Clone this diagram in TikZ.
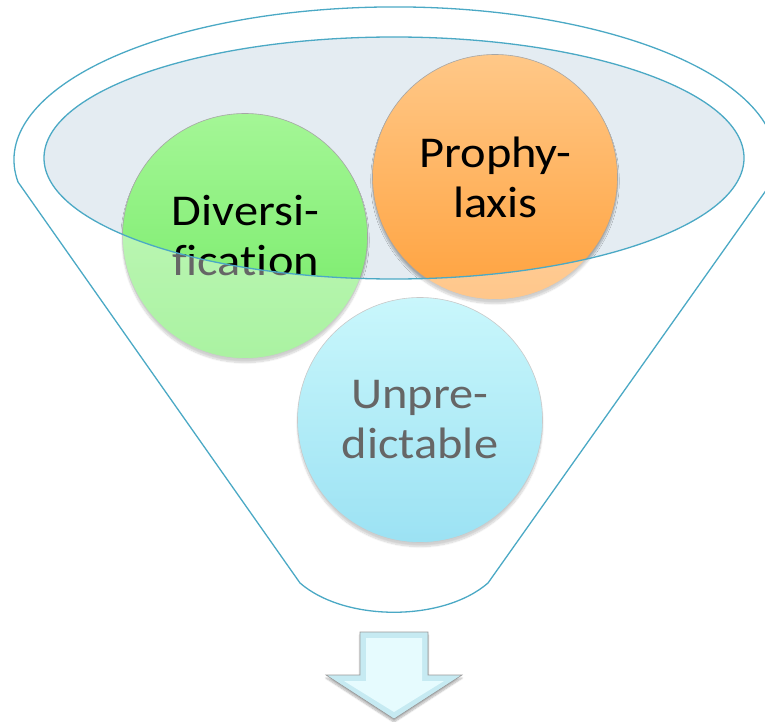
\documentclass[tikz,border=0pt]{standalone}
\usepackage{fontspec}
\newfontfamily\lblfont{Carlito}[FakeStretch=1.1, Ligatures=NoCommon]
\usetikzlibrary{shadows.blur}
\definecolor{funnelline}{HTML}{4BA9C5}
\definecolor{mouth}{HTML}{E4ECF2}
\definecolor{greentop}{HTML}{A4F696}
\definecolor{greenmid}{HTML}{80F072}
\definecolor{greenbot}{HTML}{72EA64}
\definecolor{orangetop}{HTML}{FFC888}
\definecolor{orangemid}{HTML}{FFAE52}
\definecolor{orangebot}{HTML}{FFA23E}
\definecolor{bluetop}{HTML}{A6F2FA}
\definecolor{bluemid}{HTML}{84E2F4}
\definecolor{bluebot}{HTML}{5ACFEC}
\definecolor{arrowedge}{HTML}{C6EAF2}
\definecolor{arrowface}{HTML}{E6FBFE}
\begin{document}
\begin{tikzpicture}[x=1pt,y=1pt,
  ball/.style={circle, minimum size=245pt, inner sep=0pt, draw=black!35, line width=0.6pt,
    blur shadow={shadow xshift=0pt, shadow yshift=-4pt, shadow blur steps=10, shadow opacity=30}},
  lbl/.style={font=\lblfont\fontsize{44}{50}\selectfont, align=center, inner sep=0pt, anchor=base, text=black},
  rim/.style={draw=funnelline, line width=1.3pt}]
\useasboundingbox (0,0) rectangle (765,-722);
\clip (0,0) rectangle (765,-722);
% mouth of the funnel
\fill[mouth] (394,-158) ellipse [x radius=350, y radius=121];
% balls
\node[ball, top color=greentop, middle color=greenmid, bottom color=greenbot] (div) at (245,-236) {};
\node[ball, top color=orangetop, middle color=orangemid, bottom color=orangebot] (pro) at (495,-177) {};
\node[ball, top color=bluetop, middle color=bluemid, bottom color=bluebot] (unp) at (420,-420) {};
\node[lbl] (tdiv) at (245.5,-275) {Diversi-\\fication};
\node[lbl] (tpro) at (495.5,-217) {Prophy-\\laxis};
\node[lbl] (tunp) at (420,-458) {Unpre-\\dictable};
% translucent funnel body
\fill[white, fill opacity=0.4, even odd rule]
  (18,-182) arc[start angle=188.3, end angle=-8.3, x radius=381, y radius=153]
  -- (488,-583) .. controls (443,-622) and (345,-622) .. (300,-583) -- cycle
  (394,-158) ellipse [x radius=350, y radius=121];
% outlines
\draw[rim] (18,-182) arc[start angle=188.3, end angle=-8.3, x radius=381, y radius=153]
  -- (488,-583) .. controls (443,-622) and (345,-622) .. (300,-583) -- cycle;
\draw[rim] (394,-158) ellipse [x radius=350, y radius=121];
% arrow
\filldraw[fill=arrowedge, draw=black!40, line width=0.6pt,
  blur shadow={shadow xshift=0pt, shadow yshift=-3pt, shadow blur steps=8, shadow opacity=30}]
  (360,-632) -- (428,-632) -- (428,-675) -- (462,-675) -- (394,-719) -- (326,-675) -- (360,-675) -- cycle;
\fill[arrowface] (366,-638) -- (422,-638) -- (422,-681) -- (444,-681) -- (394,-712) -- (344,-681) -- (366,-681) -- cycle;
\end{tikzpicture}
\end{document}
